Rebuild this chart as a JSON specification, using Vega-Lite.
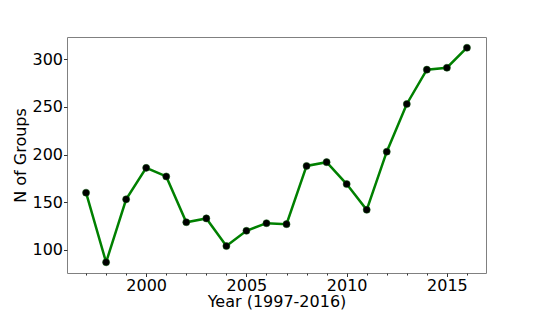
{
  "$schema": "https://vega.github.io/schema/vega-lite/v6.json",
  "width": 419,
  "height": 236,
  "autosize": {"type": "none"},
  "padding": {"left": 67, "top": 37, "right": 54, "bottom": 40},
  "background": "white",
  "config": {
    "font": "DejaVu Sans",
    "view": {"stroke": "#808080", "strokeWidth": 1},
    "axis": {"grid": false, "domain": false, "tickColor": "#333333", "labelColor": "black", "titleColor": "black", "labelFont": "DejaVu Sans", "titleFont": "DejaVu Sans", "labelFontSize": 16, "titleFontSize": 16, "titleFontWeight": "normal"}
  },
  "data": {"values": [
    {"year": 1997, "n": 160}, {"year": 1998, "n": 87}, {"year": 1999, "n": 153},
    {"year": 2000, "n": 186}, {"year": 2001, "n": 177}, {"year": 2002, "n": 129},
    {"year": 2003, "n": 133}, {"year": 2004, "n": 104}, {"year": 2005, "n": 120},
    {"year": 2006, "n": 128}, {"year": 2007, "n": 127}, {"year": 2008, "n": 188},
    {"year": 2009, "n": 192}, {"year": 2010, "n": 169}, {"year": 2011, "n": 142},
    {"year": 2012, "n": 203}, {"year": 2013, "n": 253}, {"year": 2014, "n": 289},
    {"year": 2015, "n": 291}, {"year": 2016, "n": 312}
  ]},
  "resolve": {"axis": {"x": "independent"}},
  "layer": [
    {
      "mark": {"type": "line", "color": "#008000", "strokeWidth": 2.5},
      "encoding": {
        "x": {"field": "year", "type": "quantitative", "scale": {"domain": [1996.05, 2016.95], "nice": false, "zero": false},
              "axis": {"orient": "bottom", "values": [2000, 2005, 2010, 2015], "format": "d", "title": "Year (1997-2016)", "tickSize": 3.5, "labelPadding": 1, "titlePadding": 0}},
        "y": {"field": "n", "type": "quantitative", "scale": {"domain": [75.75, 323.25], "nice": false, "zero": false},
              "axis": {"values": [100, 150, 200, 250, 300], "title": "N of Groups", "tickSize": 3.5, "labelPadding": 1, "titlePadding": 3}}
      }
    },
    {
      "mark": {"type": "point", "filled": true, "color": "black", "size": 50, "opacity": 1, "stroke": "#0a5a0a", "strokeWidth": 0.5},
      "encoding": {
        "x": {"field": "year", "type": "quantitative", "scale": {"domain": [1996.05, 2016.95], "nice": false, "zero": false},
              "axis": {"orient": "bottom", "values": [1997, 1998, 1999, 2001, 2002, 2003, 2004, 2006, 2007, 2008, 2009, 2011, 2012, 2013, 2014, 2016], "labels": false, "title": null, "tickSize": 2}},
        "y": {"field": "n", "type": "quantitative"}
      }
    }
  ]
}
